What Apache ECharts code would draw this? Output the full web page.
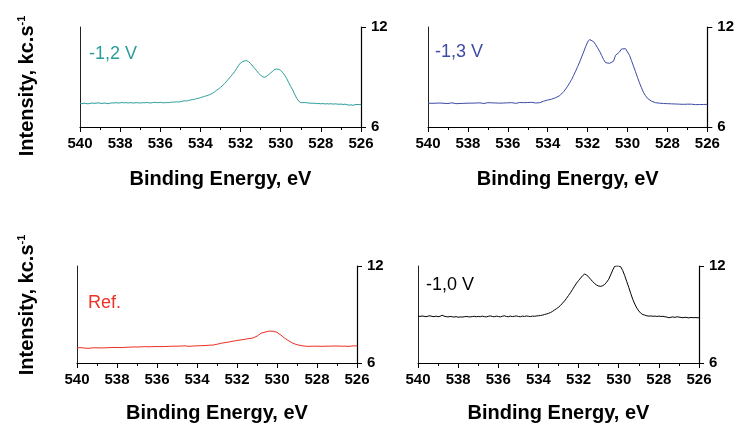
<!DOCTYPE html>
<html><head><meta charset="utf-8">
<script src="https://cdn.jsdelivr.net/npm/echarts@6/dist/echarts.min.js"></script>
<style>html,body{margin:0;padding:0;background:#fff}#c{width:737px;height:424px}</style>
</head><body><div id="c"></div>
<script>
// Binding energy grid: 540.0 eV down to 526.0 eV in 0.1 eV steps (141 points)
const energyStart = 540, energyStep = 0.1, energyCount = 141;
const energies = [];
for (let i = 0; i < energyCount; i++) energies.push(+(energyStart - i * energyStep).toFixed(1));

const xTicks = [526, 528, 530, 532, 534, 536, 538, 540];
const yTicks = [6, 12];
const panelLabels = ['-1,2 V', '-1,3 V', 'Ref.', '-1,0 V'];

// -1,2 V
const v12 = [
7.42,7.40,7.43,7.41,7.39,7.42,7.44,7.42,7.43,7.45,
7.43,7.41,7.44,7.42,7.40,7.43,7.45,7.44,7.46,7.44,
7.45,7.47,7.45,7.46,7.44,7.46,7.45,7.44,7.46,7.45,
7.44,7.46,7.45,7.47,7.46,7.44,7.46,7.48,7.47,7.46,
7.48,7.46,7.45,7.47,7.46,7.48,7.50,7.49,7.51,7.50,
7.52,7.55,7.57,7.56,7.59,7.62,7.64,7.66,7.70,7.72,
7.76,7.80,7.84,7.87,7.91,7.96,8.02,8.10,8.20,8.28,
8.38,8.48,8.60,8.74,8.88,9.02,9.16,9.32,9.50,9.70,
9.84,9.92,9.97,9.98,9.92,9.80,9.66,9.52,9.38,9.22,
9.10,9.02,8.98,9.04,9.14,9.24,9.36,9.45,9.48,9.46,
9.40,9.26,9.10,8.90,8.66,8.42,8.22,7.95,7.72,7.55,
7.47,7.46,7.47,7.45,7.44,7.43,7.42,7.43,7.40,7.41,
7.39,7.41,7.38,7.40,7.38,7.40,7.37,7.39,7.38,7.36,
7.38,7.35,7.37,7.34,7.31,7.33,7.30,7.34,7.35,7.34,
7.35];

// -1,3 V
const v13 = [
7.43,7.45,7.42,7.40,7.43,7.41,7.44,7.39,7.42,7.44,
7.41,7.43,7.45,7.42,7.40,7.43,7.41,7.44,7.42,7.40,
7.43,7.45,7.43,7.41,7.44,7.42,7.45,7.43,7.41,7.44,
7.46,7.43,7.45,7.42,7.44,7.46,7.43,7.45,7.44,7.42,
7.45,7.43,7.46,7.44,7.42,7.45,7.47,7.44,7.46,7.45,
7.47,7.45,7.48,7.46,7.44,7.38,7.46,7.52,7.55,7.58,
7.62,7.64,7.67,7.70,7.76,7.82,7.88,7.96,8.12,8.28,
8.45,8.65,8.85,9.10,9.35,9.62,9.90,10.20,10.50,10.82,
11.10,11.25,11.24,11.12,10.95,10.75,10.55,10.30,10.05,9.86,
9.82,9.82,9.85,9.95,10.30,10.38,10.50,10.68,10.76,10.70,
10.58,10.30,9.98,9.65,9.32,8.98,8.65,8.35,8.08,7.88,
7.72,7.62,7.55,7.50,7.46,7.45,7.43,7.44,7.41,7.42,
7.40,7.41,7.39,7.40,7.38,7.39,7.37,7.38,7.36,7.38,
7.37,7.35,7.37,7.36,7.34,7.36,7.35,7.36,7.35,7.36,
7.36];

// Ref.
const vRef = [
6.94,6.93,6.95,6.94,6.92,6.93,6.91,6.92,6.94,6.93,
6.94,6.95,6.93,6.95,6.94,6.96,6.95,6.97,6.96,6.95,
6.96,6.97,6.95,6.98,6.97,6.99,6.98,6.97,6.99,7.00,
6.99,7.01,7.00,6.99,7.01,7.02,7.00,7.02,7.01,7.03,
7.02,7.03,7.01,7.04,7.02,6.99,7.03,7.02,7.04,7.03,
7.04,7.02,7.05,7.03,7.06,7.04,7.03,7.06,7.05,7.07,
7.06,7.08,7.07,7.05,7.08,7.09,7.10,7.12,7.11,7.13,
7.16,7.19,7.22,7.24,7.26,7.28,7.30,7.32,7.35,7.37,
7.39,7.41,7.43,7.45,7.47,7.49,7.51,7.53,7.55,7.58,
7.66,7.78,7.84,7.88,7.91,7.95,7.97,7.98,7.97,7.95,
7.90,7.82,7.72,7.62,7.52,7.44,7.36,7.29,7.22,7.17,
7.13,7.10,7.08,7.06,7.04,7.05,7.03,7.05,7.04,7.06,
7.04,7.05,7.03,7.05,7.04,7.06,7.04,7.03,7.05,7.04,
7.05,7.03,7.04,7.06,7.04,7.05,7.03,7.05,7.06,7.05,
7.06];

// -1,0 V
const v10 = [
8.90,8.88,8.91,8.89,8.86,8.90,8.92,8.88,8.87,8.90,
8.86,8.89,8.95,8.90,8.87,8.85,8.88,8.86,8.84,8.87,
8.83,8.85,8.84,8.86,8.88,8.86,8.85,8.87,8.89,8.86,
8.88,8.86,8.90,8.87,8.85,8.89,8.91,8.88,8.86,8.90,
8.88,8.85,8.89,8.92,8.88,8.86,8.90,8.87,8.89,8.91,
8.88,8.86,8.90,8.88,8.91,8.89,8.87,8.90,8.89,8.91,
8.92,8.94,8.96,9.00,9.03,9.07,9.12,9.19,9.28,9.36,
9.45,9.56,9.70,9.84,10.00,10.18,10.35,10.55,10.75,10.94,
11.10,11.25,11.40,11.50,11.45,11.32,11.18,11.04,10.92,10.82,
10.76,10.74,10.78,10.86,11.00,11.18,11.45,11.75,11.98,12.00,
12.00,11.95,11.72,11.40,11.04,10.68,10.30,9.94,9.65,9.40,
9.22,9.08,9.00,8.96,8.92,8.90,8.91,8.89,8.90,8.88,
8.90,8.88,8.89,8.86,8.84,8.80,8.83,8.85,8.82,8.86,
8.84,8.82,8.80,8.83,8.81,8.79,8.82,8.80,8.81,8.80,
8.80];

const seriesValues = [v12, v13, vRef, v10];
const colors = ['#2a9d9b', '#3d4ba5', '#ee3124', '#000000'];
const FF = '"Liberation Sans", Arial, sans-serif';

const grids = [
  {left: 80, top: 27, width: 281, height: 100},
  {left: 428, top: 27, width: 280, height: 100},
  {left: 77, top: 266, width: 280, height: 100},
  {left: 418, top: 266, width: 281, height: 100}
];
const nameGaps = [42, 42, 40, 40];

const xAxes = grids.map((g, i) => ({
  gridIndex: i, type: 'value', inverse: true,
  min: xTicks[0], max: xTicks[xTicks.length - 1], interval: xTicks[1] - xTicks[0],
  axisLine: {show: true, onZero: false, lineStyle: {color: '#000', width: 1.2}},
  axisTick: {show: true, length: 5, lineStyle: {color: '#000', width: 1}},
  minorTick: {show: true, splitNumber: 2, length: 3, lineStyle: {color: '#000', width: 1}},
  splitLine: {show: false},
  axisLabel: {color: '#000', fontSize: 15, fontWeight: 'bold', fontFamily: FF, margin: 9},
  name: 'Binding Energy, eV', nameLocation: 'middle', nameGap: nameGaps[i],
  nameTextStyle: {color: '#000', fontSize: 20, fontWeight: 'bold', fontFamily: FF}
}));

const yAxes = [];
grids.forEach((g, i) => {
  yAxes.push({
    gridIndex: i, type: 'value', position: 'left', min: yTicks[0], max: yTicks[1],
    axisLine: {show: true, lineStyle: {color: '#222', width: 1}},
    axisTick: {show: false}, axisLabel: {show: false}, splitLine: {show: false}
  });
  yAxes.push({
    gridIndex: i, type: 'value', position: 'right', min: yTicks[0], max: yTicks[1],
    interval: yTicks[1] - yTicks[0],
    axisLine: {show: true, lineStyle: {color: '#000', width: 1.2}},
    axisTick: {show: true, length: 5, lineStyle: {color: '#000', width: 1}},
    splitLine: {show: false},
    axisLabel: {color: '#000', fontSize: 15, fontWeight: 'bold', fontFamily: FF, margin: 10, padding: [0, 0, 10, 0]}
  });
});

const series = seriesValues.map((vals, i) => ({
  type: 'line', xAxisIndex: i, yAxisIndex: 2 * i + 1,
  data: energies.map((e, k) => [e, vals[k]]),
  showSymbol: false, symbol: 'none', animation: false, clip: true,
  lineStyle: {color: colors[i], width: 1}
}));

const labelPos = [[89, 54], [435, 52], [88, 303], [426, 285]];
const graphics = panelLabels.map((t, i) => ({
  type: 'text', x: labelPos[i][0], y: labelPos[i][1],
  style: {text: t, fill: colors[i], fontSize: 18, fontFamily: FF, align: 'left', verticalAlign: 'middle'}
}));
[[27, 86], [27, 305]].forEach(p => {
  graphics.push({
    type: 'text', x: p[0], y: p[1], rotation: Math.PI / 2,
    style: {
      text: '{m|Intensity, kc.s}{s|-1}', align: 'center', verticalAlign: 'middle',
      rich: {
        m: {fontSize: 20, fontWeight: 'bold', fontFamily: FF, fill: '#000', lineHeight: 21},
        s: {fontSize: 11, fontWeight: 'bold', fontFamily: FF, fill: '#000', lineHeight: 11, verticalAlign: 'top'}
      }
    }
  });
});

const chart = echarts.init(document.getElementById('c'), null, {renderer: 'canvas'});
chart.setOption({
  animation: false,
  backgroundColor: '#fff',
  grid: grids,
  xAxis: xAxes,
  yAxis: yAxes,
  series: series,
  graphic: graphics
});
</script></body></html>
